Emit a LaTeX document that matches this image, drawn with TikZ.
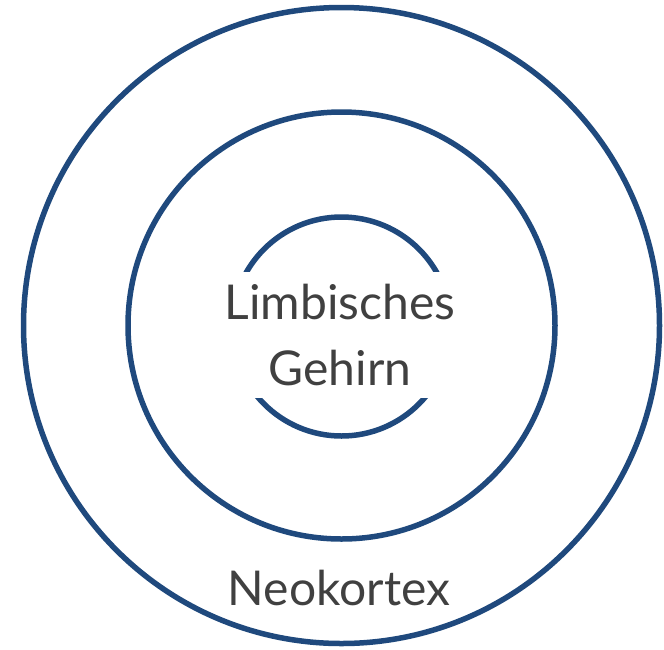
\documentclass[tikz,border=0pt]{standalone}
\usepackage{fontspec}
\setmainfont{Lato}
\definecolor{ringblue}{HTML}{1F497D}
\definecolor{txtgray}{HTML}{404040}
\begin{document}
\begin{tikzpicture}[x=1pt,y=-1pt,
  ring/.style={circle,draw=ringblue,line width=5.5pt,inner sep=0pt},
  lbl/.style={text=txtgray,font=\fontsize{48}{66}\selectfont,align=center,inner sep=0pt}]
\useasboundingbox (0,0) rectangle (664,649);
\node[ring,minimum size=636pt] (outer) at (341.5,325.5) {};
\node[ring,minimum size=427pt] (middle) at (341.5,325.5) {};
\node[ring,minimum size=219pt] (inner) at (341.5,326.5) {};
\node[lbl,fill=white,minimum width=250pt,minimum height=126pt] (limb) at (340,335) {Limbisches\\Gehirn};
\node[lbl,anchor=base] (neo) at (339,605) {Neokortex};
\end{tikzpicture}
\end{document}
